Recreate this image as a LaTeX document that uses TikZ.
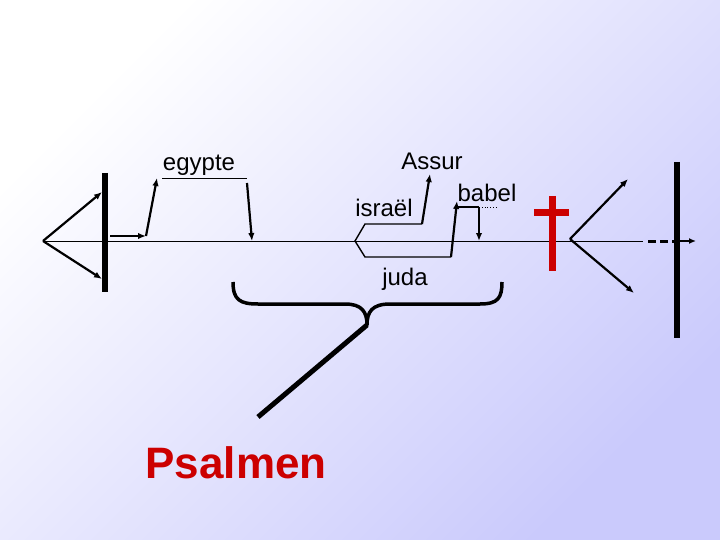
\documentclass[tikz,border=0pt]{standalone}
\usepackage{fontspec}
\setmainfont{Liberation Sans}
\usetikzlibrary{arrows.meta}
\definecolor{bgB}{RGB}{202,202,252}
\definecolor{crossred}{RGB}{204,0,0}
\tikzset{
  arr/.style={line width=2.2pt,-{Latex[length=8pt,width=6.5pt]}},
  thin/.style={line width=1pt},
  branch/.style={line width=1.4pt},
  bar/.style={line width=6.5pt},
  lbl/.style={font=\fontsize{24}{28}\selectfont,anchor=base,inner sep=0pt},
}
\begin{document}
\begin{tikzpicture}[x=1pt,y=-1pt]
\shade[top color=white,bottom color=bgB,shading angle=45] (0,0) rectangle (720,540);
\useasboundingbox (0,0) rectangle (720,540);
% coordinates
\coordinate (la) at (43,241);
\coordinate (lu) at (102,192);
\coordinate (ld) at (102,279);
\coordinate (lbt) at (105,173);
\coordinate (lbb) at (105,292);
\coordinate (h1) at (110,236);
\coordinate (h2) at (146,236);
\coordinate (h3) at (157,178);
\coordinate (eg1) at (162,179);
\coordinate (eg2) at (247,179);
\coordinate (e1) at (247,183);
\coordinate (e2) at (252,241);
\coordinate (le) at (643,241);
\coordinate (da) at (648,241);
\coordinate (db) at (675,241);
\coordinate (aa) at (679,241);
\coordinate (ab) at (696,241);
% israel / juda
\coordinate (sa) at (355,241);
\coordinate (su) at (365,224);
\coordinate (sud) at (422,224);
\coordinate (asr) at (430,174);
\coordinate (sd) at (365,257);
\coordinate (sdd) at (451,257);
\coordinate (bt) at (457,201);
\coordinate (bs) at (458,207);
\coordinate (bh) at (479,207);
\coordinate (bd) at (496,207);
\coordinate (bb) at (479,241);
% cross and right
\coordinate (ct) at (552,196);
\coordinate (cb) at (552,271);
\coordinate (cl) at (534,213);
\coordinate (cr) at (569,213);
\coordinate (ra) at (570,239);
\coordinate (ru) at (628,179);
\coordinate (rd) at (634,293);
\coordinate (rbt) at (677,162);
\coordinate (rbb) at (677,338);
% brace
\coordinate (bl) at (233,282);
\coordinate (bc) at (367,325);
\coordinate (br) at (502,282);
\coordinate (ps) at (258,417);

% main line
\draw[thin] (la) -- (le);
\draw[line width=3pt,dash pattern=on 8pt off 4pt] (da) -- (db);
\draw[line width=2pt,-{Latex[length=7pt,width=6pt]}] (aa) -- (ab);
% left part
\draw[arr] (la) -- (lu);
\draw[arr] (la) -- (ld);
\draw[bar] (lbt) -- (lbb);
\draw[arr] (h1) -- (h2);
\draw[arr] (h2) -- (h3);
\draw[thin] (eg1) -- (eg2);
\draw[arr] (e1) -- (e2);
% israel / juda
\draw[branch] (sud) -- (su) -- (sa) -- (sd) -- (sdd);
\draw[arr] (sud) -- (asr);
\draw[arr] (sdd) -- (bt);
\draw[branch] (bs) -- (bh);
\draw[line width=0.8pt,dotted] (bh) -- (bd);
\draw[arr] (bh) -- (bb);
% cross
\draw[crossred,line width=7pt] (ct) -- (cb);
\draw[crossred,line width=7pt] (cl) -- (cr);
% right
\draw[arr] (ra) -- (ru);
\draw[arr] (ra) -- (rd);
\draw[bar] (rbt) -- (rbb);
% brace
\draw[line width=3.5pt,line join=round] (bl) .. controls (233,300) and (240,304) .. (258,304) -- (345,304) .. controls (362,304) and (367,312) .. (bc)
  .. controls (367,312) and (372,304) .. (390,304) -- (480,304) .. controls (498,304) and (502,298) .. (br);
\draw[line width=5pt] (bc) -- (ps);
% labels
\node[lbl] (egypte) at (199,171) {egypte};
\node[lbl] (assur) at (432,170) {Assur};
\node[lbl] (israel) at (384,217) {israël};
\node[lbl] (babel) at (487,202) {babel};
\node[lbl] (juda) at (405,285) {juda};
\node[anchor=base,inner sep=0pt,text=crossred,font=\fontsize{44}{50}\selectfont\bfseries] (psalmen) at (236,478) {Psalmen};
\end{tikzpicture}
\end{document}
